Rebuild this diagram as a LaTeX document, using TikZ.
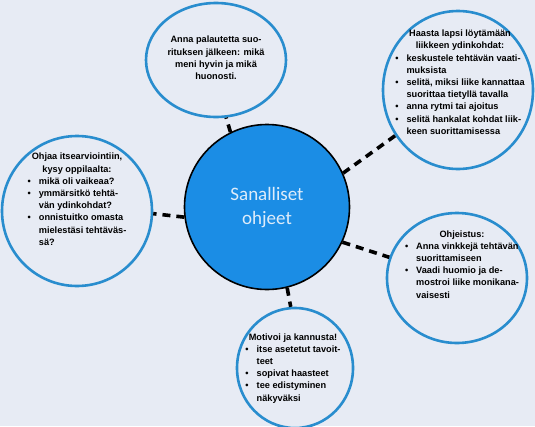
\documentclass[tikz,border=0pt]{standalone}
\usepackage{fontspec}
\setmainfont{Liberation Sans}
\newfontfamily\hubfont{Carlito}
\usetikzlibrary{shapes.geometric}
\definecolor{bgpage}{RGB}{231,235,244}
\definecolor{ringblue}{RGB}{41,141,206}
\definecolor{hubblue}{RGB}{27,141,229}
\definecolor{hubtext}{RGB}{222,236,250}
\newcommand{\bulletlist}[1]{\begin{tabular}[t]{@{}l@{\hspace{8pt}}l@{}}#1\end{tabular}}

\begin{document}
\begin{tikzpicture}[x=1pt, y=-1pt,
  ring/.style={ellipse, draw=ringblue, line width=2.6pt, inner sep=0pt},
  hub/.style={ellipse, draw=black, fill=hubblue, line width=1.6pt, inner sep=0pt, minimum size=165pt},
  txt/.style={align=center, inner sep=0pt, font=\bfseries\fontsize{9.2}{12.2}\selectfont},
  link/.style={line width=3.6pt, dash pattern=on 8pt off 6pt}]
\fill[bgpage] (0,0) rectangle (535,426);
\useasboundingbox (0,0) rectangle (535,426);
% centre
\node[hub] (sanalliset) at (267,207) {};
\node[align=center, inner sep=0pt, text=hubtext, font=\hubfont\fontsize{19}{24}\selectfont] (sanalliset-txt) at (267,208) {Sanalliset\\ohjeet};
% rings
\node[ring, minimum width=140pt, minimum height=114pt] (anna) at (216,60) {};
\node[ring, minimum width=150pt, minimum height=158pt] (haasta) at (458,90) {};
\node[ring, minimum width=150pt, minimum height=150pt] (ohjaa) at (77,211) {};
\node[ring, minimum width=140pt, minimum height=130pt] (ohjeistus) at (457,278) {};
\node[ring, minimum width=116pt, minimum height=120pt] (motivoi) at (295,368) {};
% texts
\node[txt] (anna-txt) at (216,58) {Anna palautetta suo-\\rituksen jälkeen: mikä\\meni hyvin ja mikä\\huonosti.};
\node[txt] (haasta-txt) at (460,84) {Haasta lapsi löytämään\\liikkeen ydinkohdat:\\ \bulletlist{\textbullet & keskustele tehtävän vaati-\\ & muksista\\ \textbullet & selitä, miksi liike kannattaa\\ & suorittaa tietyllä tavalla\\ \textbullet & anna rytmi tai ajoitus\\ \textbullet & selitä hankalat kohdat liik-\\ & keen suorittamisessa}};
\node[txt] (ohjaa-txt) at (77,201) {Ohjaa itsearviointiin,\\kysy oppilaalta:\\ \bulletlist{\textbullet & mikä oli vaikeaa?\\ \textbullet & ymmärsitkö tehtä-\\ & vän ydinkohdat?\\ \textbullet & onnistuitko omasta\\ & mielestäsi tehtäväs-\\ & sä?}};
\node[txt] (ohjeistus-txt) at (462,266) {Ohjeistus:\\ \bulletlist{\textbullet & Anna vinkkejä tehtävän\\ & suorittamiseen\\ \textbullet & Vaadi huomio ja de-\\ & mostroi liike monikana-\\ & vaisesti}};
\node[txt] (motivoi-txt) at (293,369) {Motivoi ja kannusta!\\ \bulletlist{\textbullet & itse asetetut tavoit-\\ & teet\\ \textbullet & sopivat haasteet\\ \textbullet & tee edistyminen\\ & näkyväksi}};
% links
\draw[link] (sanalliset.116) -- (anna.-80);
\draw[link] (sanalliset.24) -- (haasta.216);
\draw[link] (sanalliset.187) -- (ohjaa.-2);
\draw[link] (sanalliset.-25) -- (ohjeistus.163);
\draw[link] (sanalliset.-76) -- (motivoi.94);
\end{tikzpicture}
\end{document}
